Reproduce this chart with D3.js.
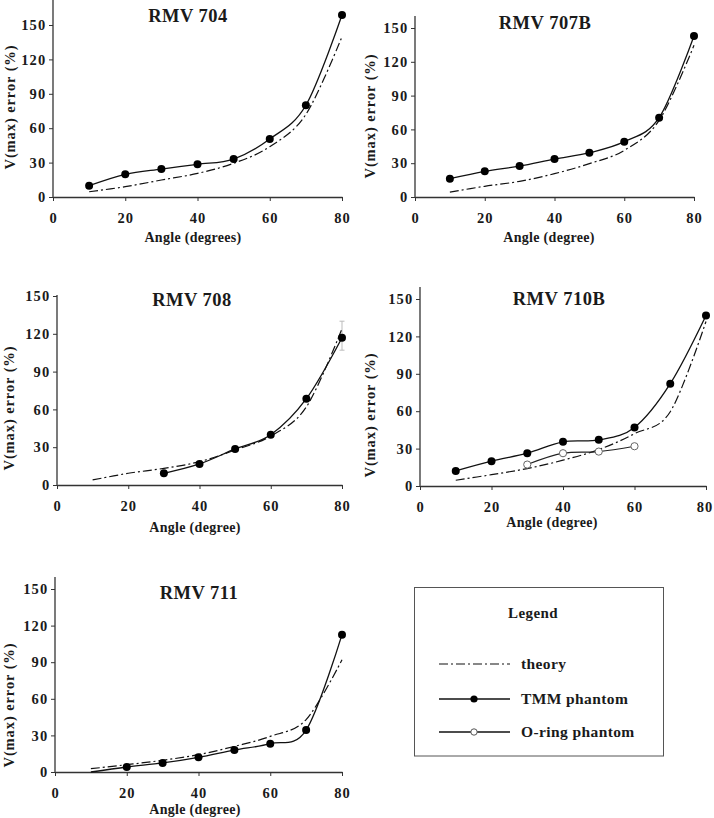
<!DOCTYPE html>
<html>
<head>
<meta charset="utf-8">
<script src="https://cdn.jsdelivr.net/npm/d3@7"></script>
<style>
  html, body { margin: 0; padding: 0; background: #fff; }
  svg { display: block; }
</style>
</head>
<body>
<svg id="chart" width="714" height="818"></svg>
<script>
// ---------------- DATA ----------------
const angles = [10, 20, 30, 40, 50, 60, 70, 80];
const xTicks = [0, 20, 40, 60, 80];
const yTicks = [0, 30, 60, 90, 120, 150];

const panelTitles = ["RMV 704", "RMV 707B", "RMV 708", "RMV 710B", "RMV 711"];
const xAxisLabels = ["Angle (degrees)", "Angle (degree)", "Angle (degree)", "Angle (degree)", "Angle (degree)"];
const yAxisLabel = "V(max) error (%)";

const theory704  = [4.6, 9.0, 14.8, 20.6, 29.4, 43.9, 72, 139.8];
const tmm704     = [9.9, 19.8, 24.4, 28.5, 33.1, 50.6, 80, 158.7];

const theory707B = [4.4, 9.5, 13.9, 20.7, 29.6, 41.4, 68, 134.6];
const tmm707B    = [16.3, 22.8, 27.5, 33.7, 39.3, 49.1, 70.4, 142.9];

const theory708  = [4.0, 9.3, 13.2, 18.5, 27.8, 38.9, 62, 124];
const tmm708     = [null, null, 9.3, 16.7, 28.6, 39.9, 68.5, 116.9];
const err708     = { angle: 80, low: 107, high: 130 };

const theory710B = [4.6, 9.1, 14.0, 20.7, 29.2, 42.0, 59.6, 132];
const tmm710B    = [12.1, 19.9, 26.3, 35.4, 37.0, 47.0, 82.1, 136.8];
const oring710B  = [null, null, 17.2, 26.3, 27.6, 31.9, null, null];

const theory711  = [2.7, 6.0, 9.6, 14.2, 21.0, 29.2, 43, 92];
const tmm711     = [0, 4.1, 7.4, 12.0, 18.0, 23.2, 34.4, 112.6];
const tmm711Unmarked = [10];

const legendTitle = "Legend";
const legendItems = ["theory", "TMM phantom", "O-ring phantom"];

// ---------------- LAYOUT ----------------
const FONT = "'Liberation Serif', 'Times New Roman', serif";
const panels = [
  { title: panelTitles[0], xlab: xAxisLabels[0], x0: 53,  x80: 342, bottom: 197, y150: 25,  axisTop: 0,
    titleX: 188, titleY: 16, xlabX: 193, xlabY: 237, ylabX: 10, ylabY: 107,
    theory: theory704, tmm: tmm704 },
  { title: panelTitles[1], xlab: xAxisLabels[1], x0: 415, x80: 694, bottom: 197, y150: 28,  axisTop: 16,
    titleX: 545, titleY: 23, xlabX: 549, xlabY: 237, ylabX: 370, ylabY: 116,
    theory: theory707B, tmm: tmm707B },
  { title: panelTitles[2], xlab: xAxisLabels[2], x0: 57,  x80: 342, bottom: 485, y150: 296, axisTop: 295,
    titleX: 192, titleY: 300, xlabX: 195, xlabY: 527, ylabX: 9, ylabY: 408,
    theory: theory708, tmm: tmm708, err: err708 },
  { title: panelTitles[3], xlab: xAxisLabels[3], x0: 420, x80: 706, bottom: 486, y150: 299, axisTop: 287,
    titleX: 559, titleY: 299, xlabX: 552, xlabY: 522, ylabX: 370, ylabY: 415,
    theory: theory710B, tmm: tmm710B, oring: oring710B, lastTickShift: -1.5 },
  { title: panelTitles[4], xlab: xAxisLabels[4], x0: 55,  x80: 342, bottom: 772, y150: 589, axisTop: 577,
    titleX: 199, titleY: 593, xlabX: 195, xlabY: 809, ylabX: 9, ylabY: 705,
    theory: theory711, tmm: tmm711, unmarked: tmm711Unmarked }
];

const svg = d3.select("#chart");
const curve = d3.curveCardinal.tension(0);
const dashDot = "9,3,2,3";

function styleText(sel, size, spacing) {
  sel.style("font-family", FONT).style("font-weight", "bold").style("font-size", size + "px")
     .style("fill", "#1a1a1a");
  if (spacing) sel.style("letter-spacing", spacing + "px");
  return sel;
}

panels.forEach(p => {
  const x = d3.scaleLinear().domain([0, 80]).range([p.x0, p.x80]);
  const y = d3.scaleLinear().domain([0, 150]).range([p.bottom, p.y150]);
  const g = svg.append("g");

  // x axis
  const xa = g.append("g").attr("transform", `translate(0,${p.bottom})`)
    .call(d3.axisBottom(x).tickValues(xTicks).tickSize(4).tickSizeOuter(0).tickPadding(12));
  xa.select(".domain").attr("stroke", "#333").attr("stroke-width", 1.3);
  xa.selectAll(".tick line").attr("stroke", "#333");
  styleText(xa.selectAll("text"), 14.5, 1);
  if (p.lastTickShift) xa.selectAll("text").filter(d => d === 80).attr("dx", p.lastTickShift);

  // y axis
  const ya = g.append("g").attr("transform", `translate(${p.x0},0)`)
    .call(d3.axisLeft(y).tickValues(yTicks).tickSize(4).tickSizeOuter(0).tickPadding(2.5));
  ya.select(".domain").remove();
  ya.selectAll(".tick line").attr("stroke", "#333");
  styleText(ya.selectAll("text"), 14.5, 1.2);
  g.append("line").attr("x1", p.x0).attr("x2", p.x0).attr("y1", p.bottom).attr("y2", p.axisTop)
    .attr("stroke", "#333").attr("stroke-width", 1.3);

  // labels
  styleText(g.append("text").attr("x", p.titleX).attr("y", p.titleY).attr("dy", "0.35em")
    .attr("text-anchor", "middle").text(p.title), 18.5, 0.5);
  styleText(g.append("text").attr("x", p.xlabX).attr("y", p.xlabY).attr("dy", "0.35em")
    .attr("text-anchor", "middle").text(p.xlab), 14, 0.3);
  styleText(g.append("text").attr("transform", `translate(${p.ylabX},${p.ylabY}) rotate(-90)`).attr("dy", "0.35em")
    .attr("text-anchor", "middle").text(yAxisLabel), 14.5, 0.9);

  const toPts = arr => angles.map((a, i) => ({ a, v: arr[i] })).filter(d => d.v !== null);
  const line = d3.line().x(d => x(d.a)).y(d => y(d.v)).curve(curve);

  // error bar
  if (p.err) {
    const e = p.err;
    g.append("line").attr("x1", x(e.angle)).attr("x2", x(e.angle)).attr("y1", y(e.low)).attr("y2", y(e.high))
      .attr("stroke", "#bbb").attr("stroke-width", 1);
    [e.low, e.high].forEach(v => g.append("line").attr("x1", x(e.angle) - 2.5).attr("x2", x(e.angle) + 2.5)
      .attr("y1", y(v)).attr("y2", y(v)).attr("stroke", "#bbb").attr("stroke-width", 1));
  }

  // theory
  g.append("path").datum(toPts(p.theory)).attr("d", line).attr("fill", "none")
    .attr("stroke", "#111").attr("stroke-width", 1.2).attr("stroke-dasharray", dashDot);

  // O-ring
  if (p.oring) {
    const pts = toPts(p.oring);
    g.append("path").datum(pts).attr("d", line).attr("fill", "none").attr("stroke", "#222").attr("stroke-width", 1.2);
    g.selectAll(".oring").data(pts).enter().append("circle")
      .attr("cx", d => x(d.a)).attr("cy", d => y(d.v)).attr("r", 3.6)
      .attr("fill", "#fff").attr("stroke", "#666").attr("stroke-width", 1);
  }

  // TMM
  const tp = toPts(p.tmm);
  g.append("path").datum(tp).attr("d", line).attr("fill", "none").attr("stroke", "#111").attr("stroke-width", 1.3);
  g.selectAll(".tmm").data(tp.filter(d => !(p.unmarked || []).includes(d.a))).enter().append("circle")
    .attr("cx", d => x(d.a)).attr("cy", d => y(d.v)).attr("r", 4).attr("fill", "#000");
});

// ---------------- LEGEND ----------------
const lg = svg.append("g");
lg.append("rect").attr("x", 414.5).attr("y", 587.5).attr("width", 249).attr("height", 168.5)
  .attr("fill", "#fff").attr("stroke", "#555").attr("stroke-width", 1);
styleText(lg.append("text").attr("x", 533).attr("y", 613).attr("dy", "0.35em").attr("text-anchor", "middle")
  .text(legendTitle), 15, 0.4);
const rowY = [664, 699, 732];
const lx1 = 439, lx2 = 510, lmx = 474, ltx = 521;
lg.append("line").attr("x1", lx1).attr("x2", lx2).attr("y1", rowY[0]).attr("y2", rowY[0])
  .attr("stroke", "#111").attr("stroke-width", 1.2).attr("stroke-dasharray", dashDot);
lg.append("line").attr("x1", lx1).attr("x2", lx2).attr("y1", rowY[1]).attr("y2", rowY[1])
  .attr("stroke", "#111").attr("stroke-width", 1.3);
lg.append("circle").attr("cx", lmx).attr("cy", rowY[1]).attr("r", 3.6).attr("fill", "#000");
lg.append("line").attr("x1", lx1).attr("x2", lx2).attr("y1", rowY[2]).attr("y2", rowY[2])
  .attr("stroke", "#111").attr("stroke-width", 1.3);
lg.append("circle").attr("cx", lmx).attr("cy", rowY[2]).attr("r", 3.2).attr("fill", "#fff")
  .attr("stroke", "#555").attr("stroke-width", 1);
legendItems.forEach((t, i) => styleText(lg.append("text").attr("x", ltx).attr("y", rowY[i]).attr("dy", "0.35em")
  .text(t), 15.5, 0.4));
</script>
</body>
</html>
